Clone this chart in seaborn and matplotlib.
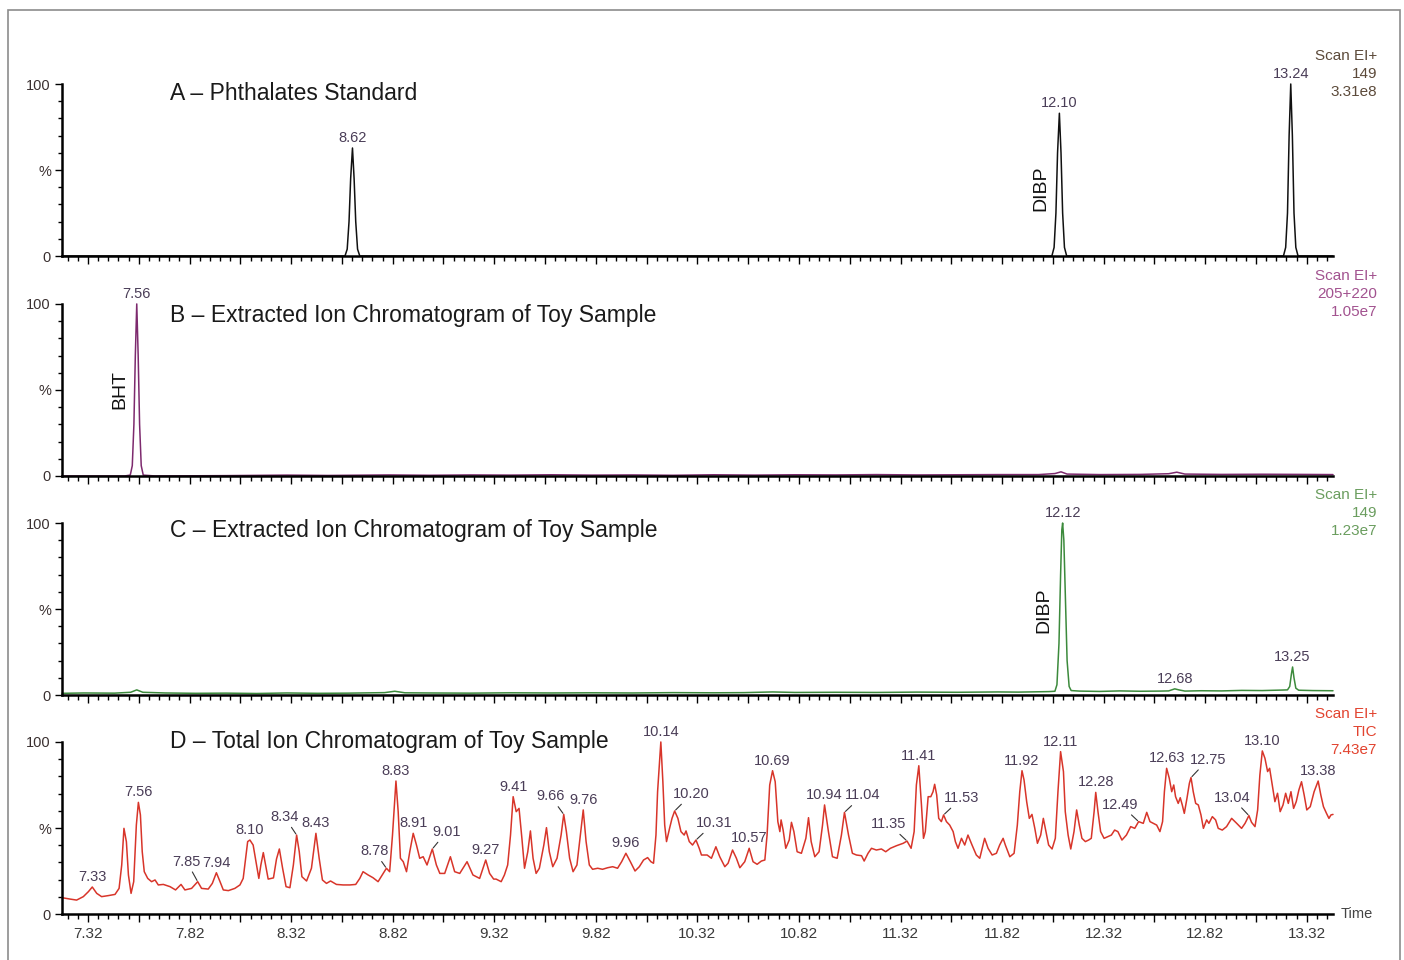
#!/usr/bin/env python3
"""GC-MS chromatograms of a toy sample (4 stacked traces)."""

import numpy as np
import pandas as pd
import matplotlib
matplotlib.use("Agg")
import matplotlib.pyplot as plt
from matplotlib.patches import Rectangle
from matplotlib.ticker import FixedLocator
import seaborn as sns

# ---- data (retention time in min, relative abundance in %) ----
a_time = [7.192, 8.585, 8.596, 8.605, 8.613, 8.622, 8.630, 8.638, 8.647, 8.658,
          12.065, 12.076, 12.085, 12.093, 12.102, 12.110, 12.118, 12.127, 12.138,
          13.205, 13.216, 13.225, 13.233, 13.241, 13.249, 13.257, 13.266, 13.277, 13.449]
a_pct = [0, 0, 4, 20, 45, 62.8, 45, 20, 4, 0,
         0, 5, 25, 60, 83, 60, 25, 5, 0,
         0, 5, 25, 70, 100, 70, 25, 5, 0, 0]

b_time = [7.192, 7.50, 7.528, 7.538, 7.546, 7.553, 7.560, 7.567, 7.574, 7.582, 7.592,
          7.65, 8.0, 8.3, 8.5, 8.8, 9.0, 9.2, 9.4, 9.6, 9.8, 10.0, 10.2, 10.4, 10.6,
          10.8, 11.0, 11.2, 11.4, 11.6, 11.8, 12.0, 12.08, 12.11, 12.14, 12.3, 12.5,
          12.64, 12.68, 12.72, 12.9, 13.1, 13.3, 13.449]
b_pct = [0, 0, 0.5, 6, 30, 70, 100, 70, 30, 6, 0.5,
         0, 0.2, 0.5, 0.3, 0.6, 0.4, 0.6, 0.5, 0.7, 0.5, 0.6, 0.4, 0.7, 0.5,
         0.7, 0.6, 0.8, 0.6, 0.7, 0.8, 0.8, 1.4, 2.4, 1.1, 0.8, 0.9,
         1.3, 2.2, 1.1, 0.9, 1.0, 0.9, 0.8]

c_time = [7.192, 7.30, 7.45, 7.53, 7.56, 7.59, 7.70, 7.85, 8.0, 8.15, 8.3, 8.45, 8.6,
          8.78, 8.83, 8.88, 9.0, 9.2, 9.4, 9.6, 9.8, 10.0, 10.2, 10.4, 10.55, 10.69,
          10.8, 11.0, 11.2, 11.4, 11.6, 11.8, 11.9, 12.05, 12.08, 12.09, 12.10, 12.108,
          12.114, 12.118, 12.124, 12.132, 12.140, 12.150, 12.16, 12.2, 12.3, 12.4, 12.5,
          12.6, 12.64, 12.67, 12.69, 12.72, 12.8, 12.9, 13.0, 13.1, 13.2, 13.225,
          13.236, 13.244, 13.250, 13.257, 13.266, 13.28, 13.35, 13.449]
c_pct = [1.0, 1.2, 1.1, 1.6, 3.0, 1.6, 1.2, 1.0, 1.1, 0.9, 1.2, 1.0, 1.1,
         1.4, 2.2, 1.3, 1.2, 1.1, 1.3, 1.2, 1.3, 1.2, 1.4, 1.3, 1.4, 1.8,
         1.5, 1.6, 1.5, 1.7, 1.6, 1.8, 1.7, 2.0, 2.2, 6, 30, 70,
         96, 100, 90, 55, 20, 5, 2.6, 2.3, 2.1, 2.4, 2.2,
         2.3, 2.4, 3.6, 3.0, 2.3, 2.5, 2.4, 2.7, 2.6, 2.9, 3.0,
         5, 12, 16.3, 10, 4, 2.8, 2.6, 2.5]

d_time = [7.192, 7.231, 7.264, 7.297, 7.322, 7.341, 7.363, 7.387, 7.420, 7.453, 7.473,
          7.486, 7.497, 7.509, 7.519, 7.532, 7.545, 7.558, 7.568, 7.578, 7.587, 7.597,
          7.614, 7.633, 7.650, 7.666, 7.691, 7.724, 7.751, 7.778, 7.797, 7.830, 7.860,
          7.879, 7.912, 7.932, 7.952, 7.970, 7.986, 8.011, 8.043, 8.068, 8.084, 8.106,
          8.117, 8.133, 8.150, 8.161, 8.171, 8.183, 8.194, 8.207, 8.233, 8.248, 8.262,
          8.278, 8.295, 8.314, 8.331, 8.347, 8.360, 8.373, 8.396, 8.420, 8.442, 8.458,
          8.474, 8.494, 8.514, 8.543, 8.576, 8.609, 8.638, 8.658, 8.674, 8.699, 8.723,
          8.748, 8.773, 8.789, 8.805, 8.819, 8.836, 8.847, 8.858, 8.872, 8.888, 8.904,
          8.921, 8.937, 8.953, 8.970, 8.989, 9.015, 9.035, 9.052, 9.076, 9.104, 9.125,
          9.150, 9.186, 9.215, 9.248, 9.278, 9.297, 9.317, 9.329, 9.354, 9.370, 9.386,
          9.400, 9.413, 9.428, 9.442, 9.456, 9.469, 9.485, 9.498, 9.511, 9.526, 9.542,
          9.564, 9.577, 9.591, 9.608, 9.629, 9.649, 9.662, 9.675, 9.691, 9.708, 9.727,
          9.744, 9.758, 9.772, 9.788, 9.804, 9.829, 9.853, 9.878, 9.903, 9.927, 9.947,
          9.968, 9.990, 10.013, 10.034, 10.055, 10.075, 10.091, 10.104, 10.116, 10.124,
          10.140, 10.150, 10.159, 10.168, 10.183, 10.195, 10.208, 10.224, 10.239, 10.255,
          10.264, 10.280, 10.296, 10.313, 10.329, 10.340, 10.368, 10.389, 10.411, 10.430,
          10.455, 10.471, 10.493, 10.512, 10.529, 10.553, 10.575, 10.594, 10.614, 10.635,
          10.652, 10.663, 10.676, 10.690, 10.703, 10.716, 10.726, 10.732, 10.742, 10.755,
          10.772, 10.783, 10.795, 10.811, 10.832, 10.854, 10.867, 10.880, 10.898, 10.919,
          10.936, 10.946, 10.965, 10.985, 11.008, 11.029, 11.044, 11.064, 11.083, 11.103,
          11.128, 11.141, 11.160, 11.177, 11.201, 11.226, 11.247, 11.270, 11.300, 11.333,
          11.352, 11.372, 11.387, 11.398, 11.410, 11.423, 11.433, 11.442, 11.456, 11.469,
          11.480, 11.488, 11.498, 11.508, 11.521, 11.532, 11.546, 11.562, 11.579, 11.590,
          11.603, 11.620, 11.636, 11.652, 11.672, 11.693, 11.710, 11.734, 11.751, 11.771,
          11.792, 11.808, 11.825, 11.836, 11.858, 11.879, 11.895, 11.907, 11.918, 11.928,
          11.941, 11.954, 11.967, 11.981, 11.994, 12.010, 12.023, 12.036, 12.049, 12.066,
          12.082, 12.095, 12.108, 12.122, 12.131, 12.145, 12.158, 12.174, 12.187, 12.200,
          12.213, 12.230, 12.246, 12.259, 12.273, 12.281, 12.292, 12.305, 12.322, 12.341,
          12.358, 12.374, 12.390, 12.410, 12.432, 12.453, 12.473, 12.492, 12.515, 12.532,
          12.548, 12.564, 12.581, 12.597, 12.610, 12.619, 12.630, 12.643, 12.655, 12.665,
          12.674, 12.687, 12.697, 12.707, 12.717, 12.730, 12.742, 12.750, 12.761, 12.773,
          12.786, 12.799, 12.811, 12.827, 12.838, 12.855, 12.871, 12.884, 12.904, 12.925,
          12.950, 12.975, 12.999, 13.016, 13.035, 13.048, 13.065, 13.078, 13.089, 13.101,
          13.114, 13.127, 13.137, 13.150, 13.163, 13.176, 13.189, 13.203, 13.216, 13.229,
          13.242, 13.255, 13.268, 13.281, 13.294, 13.307, 13.320, 13.337, 13.356, 13.376,
          13.389, 13.402, 13.417, 13.429, 13.439, 13.449]
d_pct = [9.5, 8.7, 8.1, 10.1, 13.0, 15.7, 12.0, 10.1, 10.7, 11.4, 14.9,
         28.5, 49.8, 42.0, 22.7, 12.0, 18.8, 51.7, 64.9, 57.6, 36.2, 24.6,
         20.7, 18.8, 19.8, 16.9, 17.2, 15.9, 14.0, 17.2, 14.0, 14.9, 18.8,
         14.9, 14.5, 17.8, 24.0, 18.8, 14.0, 13.6, 14.9, 16.9, 20.7, 42.1,
         43.0, 40.1, 28.5, 20.7, 28.5, 35.7, 28.5, 20.3, 21.0, 32.0, 37.8,
         26.6, 15.9, 15.3, 28.5, 45.9, 36.2, 21.7, 19.2, 26.6, 46.9, 32.4,
         19.8, 17.8, 19.2, 17.2, 16.9, 16.9, 17.2, 20.7, 24.6, 22.7, 21.1,
         18.8, 23.6, 26.6, 24.6, 45.9, 77.3, 59.5, 32.4, 30.4, 24.6, 36.2,
         46.9, 40.1, 32.4, 33.3, 28.5, 37.8, 28.5, 23.6, 23.6, 33.3, 24.6,
         23.6, 30.4, 22.7, 20.7, 31.4, 23.6, 20.3, 20.3, 18.8, 22.7, 28.5,
         45.9, 68.2, 59.5, 61.4, 44.0, 26.6, 36.2, 48.3, 32.4, 23.6, 26.6,
         40.1, 50.2, 36.2, 27.5, 32.4, 45.9, 57.9, 47.9, 32.4, 24.6, 28.5,
         45.9, 60.5, 42.1, 28.5, 26.0, 26.6, 26.0, 26.9, 27.5, 26.6, 30.4,
         35.3, 30.4, 25.0, 27.5, 31.4, 32.8, 30.4, 29.5, 45.9, 71.1,
         100.0, 76.9, 51.7, 42.1, 49.8, 55.6, 59.9, 55.6, 47.9, 45.9,
         48.3, 42.1, 40.1, 43.0, 38.2, 34.3, 34.3, 32.4, 39.1, 33.3,
         27.5, 29.5, 37.2, 32.4, 26.9, 30.4, 38.2, 30.4, 28.9, 30.8,
         31.4, 45.9, 75.0, 83.3, 76.9, 53.7, 47.9, 54.7, 48.8, 38.2,
         43.0, 53.3, 47.9, 36.2, 35.3, 44.0, 56.0, 42.1, 33.3, 36.2,
         51.7, 63.4, 47.9, 33.3, 32.4, 45.9, 59.1, 45.9, 35.3, 34.3,
         33.9, 30.8, 35.3, 38.2, 37.2, 37.8, 36.2, 38.2, 39.7, 41.1,
         42.4, 38.2, 47.9, 75.0, 86.2, 63.4, 44.0, 47.9, 68.2, 68.2,
         71.1, 75.4, 69.2, 55.6, 53.7, 57.6, 53.7, 51.7, 47.9, 42.1,
         38.2, 44.0, 40.1, 45.9, 40.1, 34.3, 32.4, 44.0, 38.2, 34.3,
         35.3, 40.1, 44.0, 40.1, 33.3, 35.3, 51.7, 71.1, 83.3, 77.9,
         65.3, 55.6, 57.9, 49.8, 41.1, 45.9, 55.6, 47.9, 40.1, 37.8,
         44.0, 71.1, 94.4, 82.8, 59.5, 45.9, 37.8, 47.9, 60.5, 51.7,
         44.0, 42.1, 43.0, 44.0, 59.5, 70.7, 59.5, 47.9, 44.0, 45.0,
         45.9, 48.8, 47.9, 43.0, 45.9, 50.8, 49.8, 53.7, 52.7, 59.1,
         53.7, 52.7, 51.7, 47.9, 53.7, 71.1, 84.7, 78.9, 71.1, 75.0,
         68.2, 64.3, 67.6, 63.4, 58.5, 67.2, 76.0, 79.3, 71.1, 64.3,
         63.4, 57.6, 49.8, 54.7, 52.7, 56.6, 54.7, 49.8, 48.8, 50.8,
         55.6, 52.7, 49.8, 52.7, 57.2, 53.3, 50.8, 60.5, 80.8, 94.8,
         90.5, 82.8, 84.7, 75.0, 65.3, 70.2, 59.5, 63.4, 70.2, 64.3,
         71.1, 61.4, 65.3, 72.1, 76.9, 69.2, 60.5, 62.4, 71.1, 77.3,
         69.2, 62.4, 58.5, 55.6, 57.6, 57.9]

# peak labels (retention times printed above the peaks)
a_labels = ["8.62", "12.10", "13.24"]
b_labels = ["7.56"]
c_labels = ["12.12", "12.68", "13.25"]
d_labels = ["7.33", "7.56", "7.85", "7.94", "8.10", "8.34", "8.43", "8.78", "8.83",
            "8.91", "9.01", "9.27", "9.41", "9.66", "9.76", "9.96", "10.14", "10.20",
            "10.31", "10.57", "10.69", "10.94", "11.04", "11.35", "11.41", "11.53",
            "11.92", "12.11", "12.28", "12.49", "12.63", "12.75", "13.04", "13.10", "13.38"]
# labels drawn off to the side with a short leader line: offset of label centre in pixels
d_leaders = {"7.85": (-11, 20), "8.34": (-12, 18), "8.78": (-12, 17), "9.01": (14, 17),
             "9.66": (-13, 18), "10.20": (17, 17), "10.31": (18, 17), "11.04": (18, 17),
             "11.35": (-18, 17), "11.53": (18, 17), "12.49": (-18, 17), "12.75": (17, 18),
             "13.04": (-17, 18)}

x_tick_labels = ["7.32", "7.82", "8.32", "8.82", "9.32", "9.82", "10.32",
                 "10.82", "11.32", "11.82", "12.32", "12.82", "13.32"]

LABEL_C = "#4a3d57"

panels = [
    dict(t=a_time, y=a_pct, color="#111111", labels=a_labels, leaders={},
         title="A \u2013 Phthalates Standard", title_y=0.945,
         scan=("Scan EI+", "149", "3.31e8"), scan_c="#5c4a3a",
         vert=("DIBP", 12.01, 39.5), bottom=0.7333),
    dict(t=b_time, y=b_pct, color="#7d2a6e", labels=b_labels, leaders={},
         title="B \u2013 Extracted Ion Chromatogram of Toy Sample", title_y=0.935,
         scan=("Scan EI+", "205+220", "1.05e7"), scan_c="#a2528f",
         vert=("BHT", 7.477, 50), bottom=0.5042),
    dict(t=c_time, y=c_pct, color="#3c8a3c", labels=c_labels, leaders={},
         title="C \u2013 Extracted Ion Chromatogram of Toy Sample", title_y=0.958,
         scan=("Scan EI+", "149", "1.23e7"), scan_c="#6a9d5e",
         vert=("DIBP", 12.025, 49.4), bottom=0.2760),
    dict(t=d_time, y=d_pct, color="#d8352a", labels=d_labels, leaders=d_leaders,
         title="D \u2013 Total Ion Chromatogram of Toy Sample", title_y=1.0,
         scan=("Scan EI+", "TIC", "7.43e7"), scan_c="#e2432f",
         vert=None, bottom=0.0479),
]


def label_peaks(ax, t, y, labels, leaders):
    t = np.asarray(t)
    y = np.asarray(y)
    for lab in labels:
        near = np.flatnonzero(np.abs(t - float(lab)) <= 0.02)
        i = near[np.argmax(y[near])]
        if lab in leaders:
            ax.annotate(lab, (t[i], y[i]), xytext=leaders[lab], textcoords="offset pixels",
                        ha="center", va="center", fontsize=10.5, color=LABEL_C,
                        annotation_clip=False,
                        arrowprops=dict(arrowstyle="-", color="#333333", lw=0.8,
                                        shrinkA=0, shrinkB=1))
        else:
            ax.annotate(lab, (t[i], y[i]), xytext=(0, 3), textcoords="offset pixels",
                        ha="center", va="bottom", fontsize=10.5, color=LABEL_C,
                        annotation_clip=False)


def main():
    sns.set_theme(style="white")
    plt.rcParams["font.family"] = ["Liberation Sans", "DejaVu Sans"]

    fig = plt.figure(figsize=(14.04, 9.6), dpi=100)
    fig.add_artist(Rectangle((8 / 1404, -0.01), 1392 / 1404, 950 / 960 + 0.01,
                             transform=fig.transFigure, fill=False,
                             edgecolor="#8c8c8c", lw=1.2))

    left, width, height = 62 / 1404, 1271 / 1404, 0.1792
    major_x = np.arange(7.32, 13.45, 0.25)
    minor_x = np.arange(7.22, 13.45, 0.05)

    for k, p in enumerate(panels):
        ax = fig.add_axes([left, p["bottom"], width, height])
        df = pd.DataFrame({"time": p["t"], "pct": p["y"]})
        sns.lineplot(data=df, x="time", y="pct", ax=ax, color=p["color"], lw=1.1,
                     estimator=None, sort=False, legend=False)
        for ln in ax.lines:
            ln.set_clip_on(False)

        ax.set_xlim(7.192, 13.449)
        ax.set_ylim(0, 100)
        ax.set_xlabel("")
        ax.set_ylabel("")
        for side in ("top", "right"):
            ax.spines[side].set_visible(False)
        for side in ("left", "bottom"):
            ax.spines[side].set_linewidth(1.8)
            ax.spines[side].set_color("black")

        ax.xaxis.set_major_locator(FixedLocator(major_x))
        ax.xaxis.set_minor_locator(FixedLocator(minor_x))
        ax.set_xticklabels([x_tick_labels[j // 2] if j % 2 == 0 else ""
                            for j in range(len(major_x))])
        ax.yaxis.set_major_locator(FixedLocator([0, 50, 100]))
        ax.yaxis.set_minor_locator(FixedLocator(range(10, 100, 10)))
        ax.set_yticklabels(["0", "%", "100"])
        ax.tick_params(axis="both", which="both", direction="out", color="black",
                       width=1, bottom=True, left=True)
        ax.tick_params(axis="x", which="major", length=6, labelsize=11, pad=3,
                       labelcolor="#3a3a3a", labelbottom=(k == 3))
        ax.tick_params(axis="x", which="minor", length=3.5)
        ax.tick_params(axis="y", which="major", length=5, labelsize=10.5, pad=3,
                       labelcolor="#3a3030")
        ax.tick_params(axis="y", which="minor", length=3)

        ax.text(0.085, p["title_y"], p["title"], transform=ax.transAxes,
                fontsize=16.5, color="#1a1a1a", va="center", ha="left")
        for line, yy in zip(p["scan"], (1.16, 1.06, 0.955)):
            ax.text(1.0346, yy, line, transform=ax.transAxes, fontsize=11,
                    color=p["scan_c"], ha="right", va="center")
        if p["vert"]:
            name, vx, vy = p["vert"]
            ax.text(vx, vy, name, rotation=90, fontsize=14, color="#111111",
                    ha="center", va="center")
        label_peaks(ax, p["t"], p["y"], p["labels"], p["leaders"])

        if k == 3:
            ax.text(1.0185, 0.0, "Time", transform=ax.transAxes, fontsize=10.5,
                    color="#444444", ha="center", va="center")

    fig.savefig("out.png", dpi=100, facecolor="white")


if __name__ == "__main__":
    main()
